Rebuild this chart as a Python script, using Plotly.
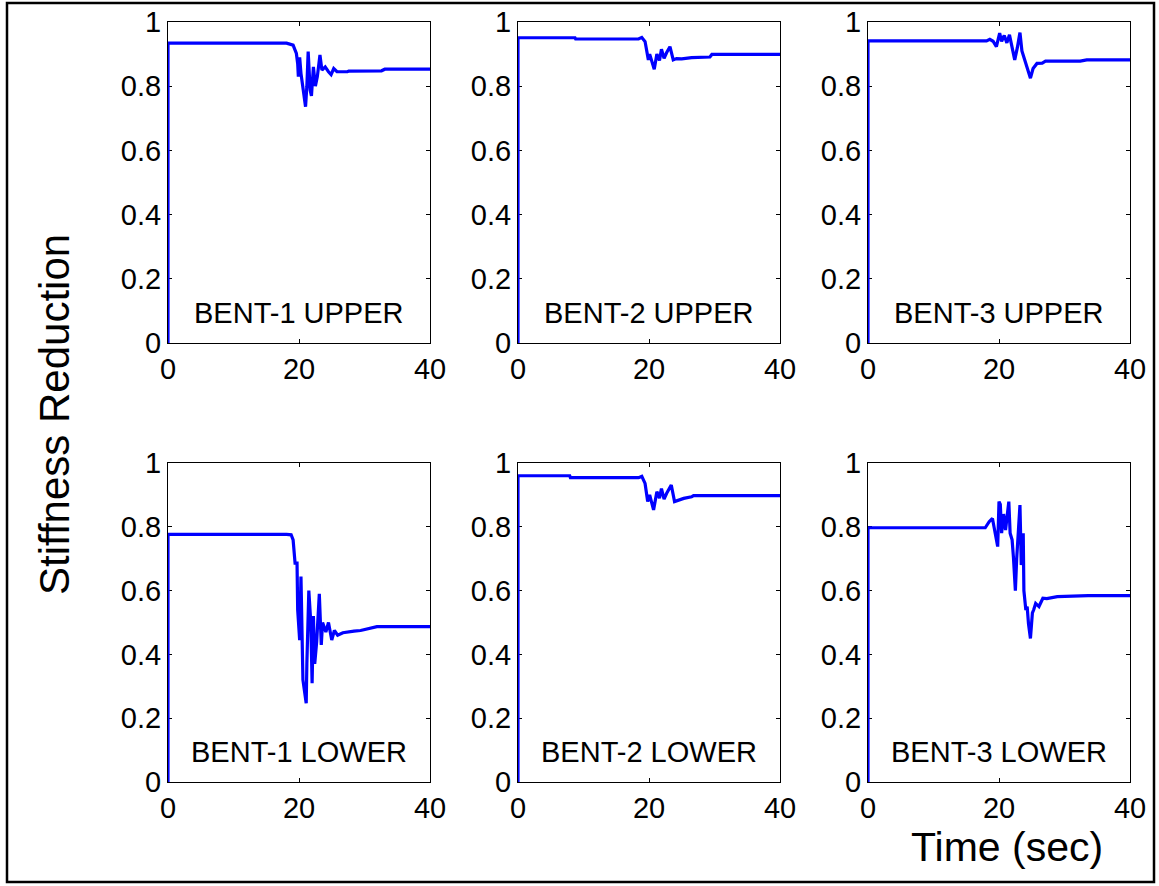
import plotly.graph_objects as go
from plotly.subplots import make_subplots

# ---- data (time in sec, stiffness reduction) ----
t_b1_upper = [0, 0, 18.1, 19.1, 19.6, 19.8, 19.9, 20.1, 20.3, 20.7, 21.0, 21.2, 21.4, 21.7, 21.9, 22.2, 22.5, 22.8, 23.2, 23.5, 24.0, 24.5, 24.9, 25.3, 25.8, 27.4, 27.6, 32.6, 33.1, 40]
v_b1_upper = [0, 0.934, 0.934, 0.928, 0.902, 0.87, 0.83, 0.89, 0.84, 0.778, 0.736, 0.80, 0.908, 0.788, 0.77, 0.86, 0.80, 0.83, 0.897, 0.85, 0.86, 0.845, 0.836, 0.855, 0.845, 0.845, 0.847, 0.848, 0.853, 0.853]

t_b2_upper = [0, 0, 8.7, 8.8, 18.4, 18.9, 19.4, 19.9, 20.1, 20.8, 21.2, 21.6, 21.9, 22.3, 22.7, 23.2, 23.7, 24.2, 25.0, 26.5, 29.3, 29.6, 40]
v_b2_upper = [0, 0.951, 0.951, 0.947, 0.947, 0.952, 0.939, 0.882, 0.90, 0.853, 0.90, 0.88, 0.915, 0.887, 0.905, 0.923, 0.882, 0.886, 0.885, 0.889, 0.891, 0.899, 0.899]

t_b3_upper = [0, 0, 18.1, 18.6, 19.1, 19.6, 20.1, 20.4, 20.8, 21.2, 21.6, 22.0, 22.4, 22.8, 23.2, 23.5, 23.8, 24.3, 24.8, 25.2, 25.8, 26.6, 27.1, 32.4, 33.4, 40]
v_b3_upper = [0, 0.941, 0.941, 0.946, 0.94, 0.923, 0.965, 0.94, 0.958, 0.935, 0.96, 0.92, 0.882, 0.92, 0.967, 0.91, 0.892, 0.856, 0.825, 0.855, 0.871, 0.872, 0.878, 0.878, 0.882, 0.882]

t_b1_lower = [0, 0, 18.1, 18.8, 19.1, 19.4, 19.7, 19.8, 20.1, 20.3, 20.6, 21.1, 21.2, 21.5, 21.8, 22.0, 22.2, 22.4, 22.7, 23.1, 23.4, 23.6, 24.1, 24.5, 25.0, 25.4, 25.9, 26.7, 28.4, 29.4, 31.9, 40]
v_b1_lower = [0, 0.776, 0.776, 0.775, 0.759, 0.686, 0.686, 0.539, 0.445, 0.644, 0.32, 0.247, 0.37, 0.60, 0.50, 0.31, 0.52, 0.37, 0.44, 0.59, 0.43, 0.50, 0.47, 0.50, 0.445, 0.475, 0.46, 0.468, 0.473, 0.475, 0.487, 0.487]

t_b2_lower = [0, 0, 7.9, 8.0, 18.4, 18.9, 19.4, 19.8, 20.1, 20.7, 21.2, 21.6, 21.9, 22.3, 22.7, 23.4, 23.9, 24.5, 25.3, 26.5, 26.8, 40]
v_b2_lower = [0, 0.960, 0.960, 0.954, 0.954, 0.958, 0.936, 0.879, 0.90, 0.853, 0.91, 0.89, 0.92, 0.887, 0.905, 0.931, 0.879, 0.884, 0.889, 0.894, 0.898, 0.898]

t_b3_lower = [0, 0, 17.9, 18.5, 19.0, 19.4, 19.8, 20.0, 20.2, 20.4, 20.7, 21.0, 21.2, 21.5, 21.7, 22.0, 22.2, 22.5, 22.7, 23.2, 23.4, 23.7, 23.8, 24.1, 24.3, 24.5, 24.8, 25.1, 25.3, 25.6, 26.1, 26.7, 27.3, 28.9, 33.6, 40]
v_b3_lower = [0, 0.797, 0.797, 0.816, 0.826, 0.78, 0.738, 0.879, 0.87, 0.78, 0.84, 0.79, 0.83, 0.879, 0.78, 0.759, 0.706, 0.60, 0.70, 0.868, 0.68, 0.78, 0.60, 0.539, 0.55, 0.497, 0.45, 0.53, 0.54, 0.56, 0.55, 0.576, 0.575, 0.581, 0.584, 0.584]

panel_labels = ["BENT-1 UPPER", "BENT-2 UPPER", "BENT-3 UPPER",
                "BENT-1 LOWER", "BENT-2 LOWER", "BENT-3 LOWER"]
x_ticks = [0, 20, 40]
y_ticks = [0, 0.2, 0.4, 0.6, 0.8, 1]
y_tick_text = ["0", "0.2", "0.4", "0.6", "0.8", "1"]

series = [(t_b1_upper, v_b1_upper), (t_b2_upper, v_b2_upper), (t_b3_upper, v_b3_upper),
          (t_b1_lower, v_b1_lower), (t_b2_lower, v_b2_lower), (t_b3_lower, v_b3_lower)]

FONT = "Liberation Sans, Arial, sans-serif"

fig = make_subplots(rows=2, cols=3)

# Layout in pixels: figure 1159x886, plot area x 168..1130, y 22..782
W, H = 1159, 886
L, R, T, B = 168, 29, 22, 104
pw, ph = W - L - R, H - T - B
col_px = [(168, 430), (518, 780), (868, 1130)]
row_px = [(22, 343), (463, 782)]

for i, (t, v) in enumerate(series):
    r, c = i // 3 + 1, i % 3 + 1
    fig.add_trace(go.Scatter(x=t, y=v, mode="lines",
                             line=dict(color="#0000FF", width=3.2),
                             showlegend=False), row=r, col=c)
    idx = "" if i == 0 else str(i + 1)
    x0, x1 = col_px[c - 1]
    y0, y1 = row_px[r - 1]
    fig.layout["xaxis" + idx].update(
        domain=[(x0 - L) / pw, (x1 - L) / pw],
        range=[0, 40], tickvals=x_ticks, ticks="inside", ticklen=4,
        tickcolor="black", showline=True, linecolor="black", linewidth=1,
        mirror="ticks", showgrid=False, zeroline=False, layer="below traces",
        tickfont=dict(size=29, color="black", family=FONT))
    fig.layout["yaxis" + idx].update(
        domain=[1 - (y1 - T) / ph, 1 - (y0 - T) / ph],
        range=[0, 1], tickvals=y_ticks, ticktext=y_tick_text, ticks="inside",
        ticklen=4, tickcolor="black", showline=True, linecolor="black",
        linewidth=1, mirror="ticks", showgrid=False, zeroline=False,
        layer="below traces",
        tickfont=dict(size=29, color="black", family=FONT))
    fig.add_annotation(text=panel_labels[i], x=20, y=0.095,
                       xref="x" + idx, yref="y" + idx, showarrow=False,
                       xanchor="center", yanchor="middle",
                       font=dict(size=29, color="black", family=FONT))

# axis titles
fig.add_annotation(text="Stiffness Reduction", x=(54 - L) / pw, y=1 - (415 - T) / ph,
                   xref="paper", yref="paper", showarrow=False, textangle=-90,
                   xanchor="center", yanchor="middle",
                   font=dict(size=42, color="black", family=FONT))
fig.add_annotation(text="Time (sec)", x=(1007 - L) / pw, y=1 - (847 - T) / ph,
                   xref="paper", yref="paper", showarrow=False,
                   xanchor="center", yanchor="middle",
                   font=dict(size=41, color="black", family=FONT))

# outer frame
fig.add_shape(type="rect", xref="paper", yref="paper",
              x0=(7 - L) / pw, x1=(1154 - L) / pw,
              y0=1 - (882 - T) / ph, y1=1 - (3 - T) / ph,
              line=dict(color="black", width=2.5))

fig.update_layout(width=W, height=H,
                  margin=dict(l=L, r=R, t=T, b=B, autoexpand=False),
                  paper_bgcolor="white", plot_bgcolor="white",
                  font=dict(family=FONT, color="black"))

fig.write_html("out.html",
               config={"displayModeBar": False},
               post_script="document.body.style.margin='0px';document.body.style.padding='0px';document.body.style.overflow='hidden';")
